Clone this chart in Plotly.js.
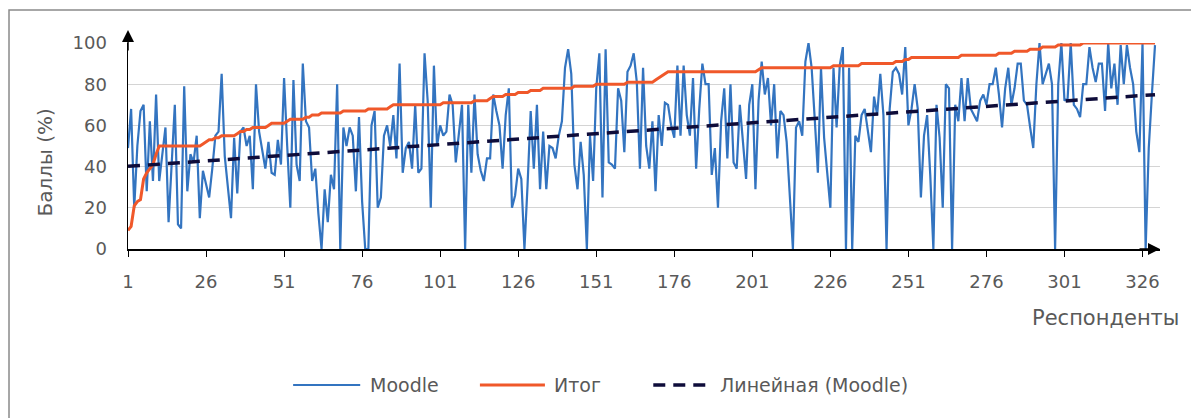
<!DOCTYPE html>
<html>
<head>
<meta charset="utf-8">
<script src="https://cdn.plot.ly/plotly-3.0.1.min.js"></script>
<style>html,body{margin:0;padding:0;background:#fff;}#chart{width:1191px;height:418px;}</style>
</head>
<body>
<div id="chart"></div>
<script>
// Moodle scores per respondent
const moodle = [
  49, 68, 20, 50, 67, 70, 28, 62, 33, 75, 33, 46, 59, 13, 45, 70, 12, 10, 79, 28, 46, 42, 55, 15, 38, 31, 25, 39, 55, 57, 85,
  45, 30, 15, 54, 27, 57, 59, 50, 55, 29, 80, 57, 47, 39, 52, 37, 36, 53, 41, 83, 50, 20, 82, 41, 33, 90, 62, 59, 33, 39, 17, 0, 29, 13,
  36, 29, 80, 0, 59, 50, 59, 55, 28, 64, 23, 0, 0, 60, 67, 20, 25, 55, 60, 50, 65, 44, 90, 37, 49, 52, 39, 70, 37, 39, 95, 72, 20, 89,
  50, 60, 55, 57, 75, 70, 42, 55, 70, 0, 70, 37, 75, 46, 38, 33, 44, 44, 75, 67, 60, 39, 65, 78, 20, 26, 39, 34, 0, 31, 67, 39, 70,
  29, 57, 29, 50, 49, 44, 55, 62, 88, 97, 85, 41, 29, 52, 36, 0, 55, 33, 78, 95, 25, 97, 42, 41, 39, 78, 72, 47, 86, 89, 95, 81, 39, 88,
  50, 39, 62, 28, 65, 50, 71, 70, 60, 54, 89, 55, 89, 65, 55, 83, 39, 68, 90, 80, 80, 36, 49, 20, 62, 78, 44, 80, 42, 39, 70, 52, 34,
  70, 80, 29, 72, 91, 75, 83, 60, 80, 44, 67, 65, 52, 23, 0, 59, 62, 55, 91, 100, 88, 63, 37, 88, 54, 37, 20, 88, 59, 89, 98, 0,
  88, 0, 55, 52, 65, 68, 57, 47, 74, 65, 85, 65, 0, 68, 86, 88, 85, 75, 98, 60, 68, 80, 68, 25, 55, 65, 36, 0, 70, 54, 20, 80, 78,
  0, 70, 62, 83, 62, 83, 68, 65, 62, 72, 75, 70, 80, 80, 88, 75, 59, 78, 88, 70, 78, 90, 90, 72, 70, 59, 49, 80, 100, 80, 85, 90, 80, 0,
  80, 100, 72, 73, 100, 70, 68, 64, 80, 80, 98, 88, 81, 90, 90, 67, 100, 78, 90, 70, 99, 80, 99, 88, 80, 57, 47, 100, 0, 49, 75, 99
];

// Final score (Итог), sorted ascending
const itog = [
  9, 11, 21, 23, 24, 34, 37, 39, 41, 46,
  50, 50, 50, 50, 50, 50, 50, 50, 50, 50, 50, 50, 50, 50,
  51, 52, 53, 53, 54, 54,
  55, 55, 55, 55, 55,
  56, 57, 57, 58, 58,
  59, 59, 59, 59, 59,
  60,
  61, 61, 61, 61, 61,
  62,
  63, 63, 63, 63, 63,
  64, 64,
  65, 65, 65,
  66, 66, 66, 66, 66, 66, 66,
  67, 67, 67, 67, 67, 67, 67, 67,
  68, 68, 68, 68, 68, 68, 68,
  69,
  70, 70, 70, 70, 70, 70, 70, 70, 70, 70, 70, 70, 70, 70, 70, 70,
  71, 71, 71, 71, 71, 71, 71, 71, 71, 71,
  72, 72, 72, 72, 72,
  73,
  74, 74, 74, 74,
  75, 75, 75, 75,
  76, 76, 76, 76,
  77, 77, 77, 77,
  78, 78, 78, 78, 78, 78, 78, 78, 78, 78,
  79, 79, 79, 79, 79, 79, 79,
  80, 80, 80, 80, 80, 80, 80, 80, 80, 80,
  81, 81, 81, 81, 81, 81, 81, 81, 81,
  82, 83, 84, 85,
  86, 86, 86, 86, 86, 86, 86, 86, 86, 86, 86, 86, 86, 86, 86, 86, 86, 86, 86, 86, 86, 86, 86, 86, 86, 86, 86, 86, 86,
  87,
  88, 88, 88, 88, 88, 88, 88, 88, 88, 88, 88, 88, 88, 88, 88, 88, 88, 88, 88, 88, 88, 88, 88,
  89, 89, 89, 89, 89, 89, 89, 89, 89,
  90, 90, 90, 90, 90, 90, 90, 90, 90, 90, 90,
  91, 91, 91,
  92, 92,
  93, 93, 93, 93, 93, 93, 93, 93, 93, 93, 93, 93, 93, 93, 93, 93,
  94, 94, 94, 94, 94, 94, 94, 94, 94, 94, 94, 94,
  95, 95, 95, 95, 95,
  96, 96, 96, 96, 96,
  97, 97, 97, 97,
  98, 98, 98, 98, 98,
  99, 99, 99, 99, 99, 99, 99, 99,
  100, 100, 100, 100, 100, 100, 100, 100, 100, 100, 100, 100, 100, 100, 100, 100, 100, 100, 100, 100, 100, 100, 100, 100
];

const xTickVals = [1, 26, 51, 76, 101, 126, 151, 176, 201, 226, 251, 276, 301, 326];
const xTickText = ['1', '26', '51', '76', '101', '126', '151', '176', '201', '226', '251', '276', '301', '326'];
const yTickVals = [0, 20, 40, 60, 80, 100];

const seriesNames = ['Moodle', 'Итог', 'Линейная (Moodle)'];
const xTitle = 'Респонденты';
const yTitle = 'Баллы (%)';

// respondent numbers (category index)
const respondents = moodle.map((_, i) => i + 1);

// Linear trendline (least squares) of the Moodle series
const n = moodle.length;
let sx = 0, sy = 0, sxx = 0, sxy = 0;
for (let i = 0; i < n; i++) {
  const x = respondents[i], y = moodle[i];
  sx += x; sy += y; sxx += x * x; sxy += x * y;
}
const slope = (n * sxy - sx * sy) / (n * sxx - sx * sx);
const intercept = (sy - slope * sx) / n;
const trend = respondents.map(x => intercept + slope * x);

const FONT = '"DejaVu Sans", Verdana, sans-serif';
const GREY = '#595959';
const COLORS = ['#3374c0', '#f0582a', '#0e0c3a'];

const traces = [
  {x: respondents, y: moodle, name: seriesNames[0], type: 'scatter', mode: 'lines',
   line: {color: COLORS[0], width: 2.2}},
  {x: respondents, y: itog, name: seriesNames[1], type: 'scatter', mode: 'lines',
   line: {color: COLORS[1], width: 3}},
  {x: respondents, y: trend, name: seriesNames[2], type: 'scatter', mode: 'lines',
   line: {color: COLORS[2], width: 3.5, dash: '12px,8px'}}
];

// legend drawn as layout decorations (long line samples like the reference)
const LEG_Y = -0.66;
const legendSpec = [
  {x0: 0.160, x1: 0.225, tx: 0.233, dash: 'solid', w: 2},
  {x0: 0.341, x1: 0.404, tx: 0.411, dash: 'solid', w: 3},
  {x0: 0.509, x1: 0.565, tx: 0.572, dash: '12px,8px', w: 3.5}
];
const legendShapes = legendSpec.map((s, i) => ({
  type: 'line', xref: 'paper', yref: 'paper', x0: s.x0, x1: s.x1, y0: LEG_Y, y1: LEG_Y,
  line: {color: COLORS[i], width: s.w, dash: s.dash}
}));
const legendTexts = legendSpec.map((s, i) => ({
  xref: 'paper', yref: 'paper', x: s.tx, y: LEG_Y, xanchor: 'left', yanchor: 'middle',
  text: seriesNames[i], showarrow: false, font: {family: FONT, size: 19, color: GREY}
}));

const layout = {
  width: 1191, height: 418,
  margin: {l: 128, r: 31, t: 43, b: 169, pad: 0},
  paper_bgcolor: '#ffffff', plot_bgcolor: '#ffffff',
  font: {family: FONT, size: 18, color: GREY},
  showlegend: false,
  xaxis: {range: [1, 331.6], tickmode: 'array', tickvals: xTickVals, ticktext: xTickText,
          showgrid: false, zeroline: false, showline: true, linecolor: '#000000', linewidth: 1.5,
          ticks: 'outside', ticklen: 6, tickcolor: '#000000', tickwidth: 1,
          ticklabelstandoff: 10, tickfont: {family: FONT, size: 18, color: GREY}},
  yaxis: {range: [0, 100], tickmode: 'array', tickvals: yTickVals,
          showgrid: true, gridcolor: '#d4d4d4', gridwidth: 1, zeroline: false,
          showline: true, linecolor: '#000000', linewidth: 1.5, ticks: '',
          ticklabelstandoff: 16, tickfont: {family: FONT, size: 18, color: GREY}},
  shapes: [
    {type: 'rect', xref: 'paper', yref: 'paper', x0: -0.1153, x1: 1.2, y0: -1.2, y1: 1.160,
     line: {color: '#8a8a8a', width: 1.5}, fillcolor: 'rgba(0,0,0,0)', layer: 'below'}
  ].concat(legendShapes),
  annotations: [
    {xref: 'paper', yref: 'paper', x: 1, y: -0.335, xanchor: 'right', yanchor: 'middle', xshift: 21,
     text: xTitle, showarrow: false, font: {family: FONT, size: 21, color: GREY}},
    {xref: 'paper', yref: 'paper', x: 0, y: 0.42, xanchor: 'center', yanchor: 'middle', xshift: -83,
     text: yTitle, textangle: -90, showarrow: false, font: {family: FONT, size: 20, color: GREY}},
    {xref: 'paper', yref: 'paper', x: 0, y: 1.063, ax: 0, ay: 22, text: '', showarrow: true,
     arrowhead: 2, arrowsize: 1.6, arrowwidth: 1.5, arrowcolor: '#000000', standoff: 0},
    {xref: 'paper', yref: 'paper', x: 1, y: 0, ax: -22, ay: 0, text: '', showarrow: true,
     arrowhead: 2, arrowsize: 1.6, arrowwidth: 1.5, arrowcolor: '#000000', standoff: 0}
  ].concat(legendTexts),
  hovermode: false
};

Plotly.newPlot('chart', traces, layout, {displayModeBar: false, staticPlot: true});
</script>
</body>
</html>
